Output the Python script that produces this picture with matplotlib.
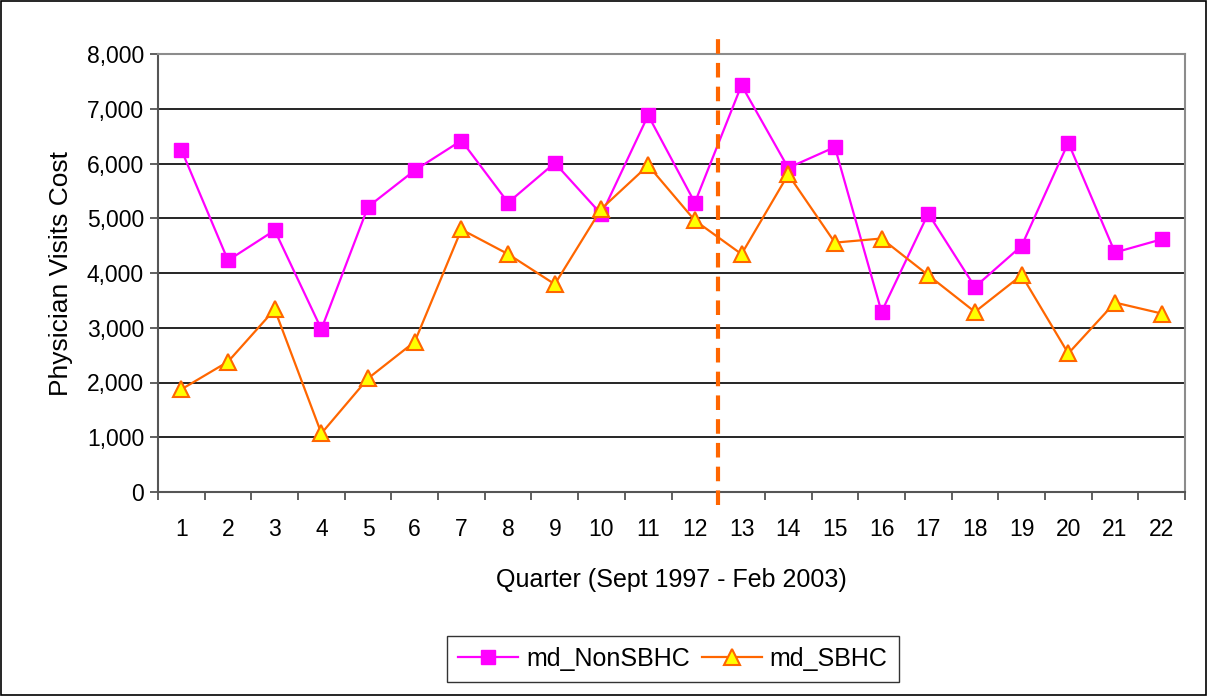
import matplotlib
matplotlib.use('Agg')
import matplotlib.pyplot as plt
from matplotlib.ticker import FuncFormatter, FixedLocator, NullFormatter

plt.rcParams['font.family'] = ['Liberation Sans', 'DejaVu Sans']
size = 16.5

quarters = list(range(1, 23))
md_nonsbhc = [6250, 4230, 4780, 2975, 5210, 5875, 6420, 5285, 6010, 5070, 6880,
              5285, 7430, 5920, 6300, 3290, 5085, 3745, 4495, 6380, 4375, 4615]
md_sbhc = [1875, 2380, 3335, 1070, 2075, 2745, 4795, 4345, 3795, 5175, 5965,
           4960, 4345, 5800, 4555, 4630, 3960, 3290, 3960, 2530, 3460, 3260]
cutoff = 12.5  # intervention between quarter 12 and 13

magenta = '#FF00FF'
orange = '#FF6600'

fig = plt.figure(figsize=(12.07, 6.96), dpi=100)
ax = fig.add_axes([158/1207, 1 - 492/696, (1185-158)/1207, (492-54)/696])

ax.plot(quarters, md_nonsbhc, color=magenta, linewidth=1.6, marker='s',
        markersize=9.5, markerfacecolor=magenta, markeredgecolor=magenta,
        label='md_NonSBHC', zorder=4)
ax.plot(quarters, md_sbhc, color=orange, linewidth=1.6, marker='^',
        markersize=11, markerfacecolor='#FFFF00', markeredgecolor=orange,
        markeredgewidth=1.5, label='md_SBHC', zorder=4)

ax.plot([cutoff, cutoff], [-230, 8300], color=orange, linewidth=3,
        linestyle=(0, (3.5, 2.2)), clip_on=False, zorder=5)

ax.set_xlim(0.5, 22.5)
ax.set_ylim(0, 8000)
ax.set_yticks(range(0, 8001, 1000))
ax.yaxis.set_major_formatter(FuncFormatter(lambda v, p: f'{int(v):,}'))
ax.yaxis.grid(True, color='black', linewidth=1.2)
ax.set_axisbelow(True)

# category labels centred, ticks on the boundaries
ax.xaxis.set_major_locator(FixedLocator([q + 0.5 for q in [0] + quarters]))
ax.xaxis.set_major_formatter(NullFormatter())
ax.xaxis.set_minor_locator(FixedLocator(quarters))
ax.set_xticklabels([str(q) for q in quarters], minor=True)
ax.tick_params(axis='x', which='minor', length=0, pad=19, labelsize=size)
ax.tick_params(axis='x', which='major', length=6, width=1.2, color='#444444')
ax.tick_params(axis='y', length=6, width=1.2, color='#444444', labelsize=size, pad=4)

for side in ['top', 'right']:
    ax.spines[side].set_color('#8c8c8c')
    ax.spines[side].set_linewidth(1.5)
for side in ['left', 'bottom']:
    ax.spines[side].set_color('#555555')
    ax.spines[side].set_linewidth(1.5)

ax.set_ylabel('Physician Visits Cost', fontsize=19, labelpad=10)
ax.set_xlabel('Quarter (Sept 1997 - Feb 2003)', fontsize=18, labelpad=19)

leg = fig.legend(loc='center', bbox_to_anchor=(673/1207, 1 - 659/696), ncol=2,
                 fontsize=18, frameon=True, fancybox=False, edgecolor='black',
                 handlelength=2.4, columnspacing=0.5, handletextpad=0.3,
                 borderpad=0.45)
leg.get_frame().set_linewidth(1.0)

fig.patches.append(plt.Rectangle((0.001, 0.001), 0.998, 0.997, transform=fig.transFigure,
                                 fill=False, edgecolor='black', linewidth=1.2))

plt.savefig('out.png', dpi=100)
